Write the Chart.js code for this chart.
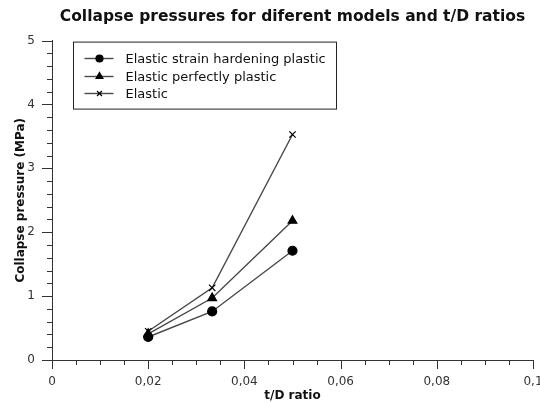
<!DOCTYPE html>
<html>
<head>
<meta charset="utf-8">
<script src="https://cdn.jsdelivr.net/npm/chart.js@4/dist/chart.umd.min.js"></script>
<style>
    body { margin: 0; background: #fff; }
    canvas { display: block; }
</style>
</head>
<body>
<canvas id="chartColapso" width="540" height="403"></canvas>
<script>
// Datos
const tdRatios = [0.02, 0.0333, 0.05];
const strainHardening = [0.36, 0.76, 1.71];
const perfectlyPlastic = [0.41, 0.97, 2.18];
const elastic = [0.45, 1.13, 3.53];
const seriesLabels = ['Elastic strain hardening plastic', 'Elastic perfectly plastic', 'Elastic'];
const xTickLabels = [0, 0.02, 0.04, 0.06, 0.08, 0.1];
const yTickLabels = [0, 1, 2, 3, 4, 5];

const fontFamily = "'DejaVu Sans', sans-serif";
const lineColor = '#484848';

const toPoints = values => tdRatios.map((x, i) => ({ x: x, y: values[i] }));
const fmt = v => String(Number(v.toFixed(3))).replace('.', ',');
const isLabelled = (list, v) => list.some(t => Math.abs(t - v) < 1e-6);

// Marcas de los ejes (mayores y menores)
const tickMarks = {
    id: 'tickMarks',
    afterDraw(chart) {
        const ctx = chart.ctx;
        const xs = chart.scales.x, ys = chart.scales.y;
        ctx.save();
        ctx.strokeStyle = '#333';
        ctx.lineWidth = 1;
        xs.ticks.forEach(t => {
            const px = Math.round(xs.getPixelForValue(t.value)) + 0.5;
            const len = isLabelled(xTickLabels, t.value) ? 9 : 5;
            ctx.beginPath();
            ctx.moveTo(px, xs.top);
            ctx.lineTo(px, xs.top + len);
            ctx.stroke();
        });
        ys.ticks.forEach(t => {
            const py = Math.round(ys.getPixelForValue(t.value)) + 0.5;
            const len = isLabelled(yTickLabels, t.value) ? 10 : 5;
            ctx.beginPath();
            ctx.moveTo(ys.right, py);
            ctx.lineTo(ys.right - len, py);
            ctx.stroke();
        });
        ctx.restore();
    }
};

// Leyenda dentro del área del gráfico
const boxLegend = {
    id: 'boxLegend',
    afterDraw(chart) {
        const ctx = chart.ctx;
        const area = chart.chartArea;
        const left = area.left + 21.5, top = area.top + 1.5;
        const width = 263, height = 67, rowH = 17.5;
        ctx.save();
        ctx.fillStyle = '#fff';
        ctx.fillRect(left, top, width, height);
        ctx.strokeStyle = '#222';
        ctx.lineWidth = 1;
        ctx.strokeRect(left, top, width, height);
        ctx.font = '13px ' + fontFamily;
        ctx.textBaseline = 'middle';
        chart.data.datasets.forEach((ds, i) => {
            const y = Math.round(top + 16 + i * rowH) + 0.5;
            ctx.strokeStyle = lineColor;
            ctx.lineWidth = 1.4;
            ctx.beginPath();
            ctx.moveTo(left + 11, y);
            ctx.lineTo(left + 40, y);
            ctx.stroke();
            ctx.fillStyle = '#000';
            ctx.strokeStyle = '#000';
            ctx.lineWidth = 1.2;
            Chart.helpers.drawPoint(ctx, {
                pointStyle: ds.pointStyle,
                radius: ds.legendRadius,
                borderWidth: 1.2
            }, left + 26, y);
            ctx.fillStyle = '#111';
            ctx.fillText(ds.label, left + 52, y + 1);
        });
        ctx.restore();
    }
};

const ctxColapso = document.getElementById('chartColapso').getContext('2d');

function makeDataset(label, values, style, radius, legendRadius) {
    return {
        label: label,
        data: toPoints(values),
        showLine: true,
        borderColor: lineColor,
        borderWidth: 1.4,
        pointStyle: style,
        pointRadius: radius,
        pointBackgroundColor: '#000',
        pointBorderColor: '#000',
        pointBorderWidth: 1.2,
        legendRadius: legendRadius
    };
}

new Chart(ctxColapso, {
    type: 'scatter',
    data: {
        datasets: [
            makeDataset(seriesLabels[0], strainHardening, 'circle', 4.5, 3.5),
            makeDataset(seriesLabels[1], perfectlyPlastic, 'triangle', 5, 4),
            makeDataset(seriesLabels[2], elastic, 'crossRot', 4.5, 3.5)
        ]
    },
    options: {
        responsive: false,
        animation: false,
        layout: { padding: { top: 0, right: 7, left: 0, bottom: 0 } },
        plugins: {
            legend: { display: false },
            tooltip: { enabled: false },
            title: {
                display: true,
                fullSize: false,
                text: 'Collapse pressures for diferent models and t/D ratios',
                color: '#111',
                font: { family: fontFamily, size: 15.5, weight: 'bold', lineHeight: 1.2 },
                padding: { top: 8, bottom: 14 }
            }
        },
        scales: {
            x: {
                type: 'linear',
                min: 0,
                max: 0.1,
                grid: { display: true, drawOnChartArea: false, drawTicks: false, color: 'transparent' },
                border: { display: true, color: '#333', width: 1 },
                ticks: {
                    stepSize: 0.005,
                    autoSkip: false,
                    maxRotation: 0,
                    padding: 15,
                    color: '#333',
                    font: { family: fontFamily, size: 12 },
                    callback: v => isLabelled(xTickLabels, v) ? fmt(v) : ''
                },
                title: {
                    display: true,
                    text: 't/D ratio',
                    color: '#111',
                    font: { family: fontFamily, size: 12, weight: 'bold', lineHeight: 1.2 },
                    padding: { top: 0, bottom: 0 }
                },
                afterFit(scale) {
                    scale.height = 43;
                    scale.paddingLeft = 0;
                    scale.paddingRight = 0;
                }
            },
            y: {
                type: 'linear',
                min: 0,
                max: 5,
                grid: { display: true, drawOnChartArea: false, drawTicks: false, color: 'transparent' },
                border: { display: true, color: '#333', width: 1 },
                ticks: {
                    stepSize: 0.2,
                    autoSkip: false,
                    padding: 17,
                    color: '#333',
                    font: { family: fontFamily, size: 12 },
                    callback: v => isLabelled(yTickLabels, v) ? fmt(v) : ''
                },
                title: {
                    display: true,
                    text: 'Collapse pressure (MPa)',
                    color: '#111',
                    font: { family: fontFamily, size: 12, weight: 'bold', lineHeight: 1.2 },
                    padding: { top: 14, bottom: 0 }
                },
                afterFit(scale) {
                    scale.width = 52;
                    scale.paddingTop = 0;
                    scale.paddingBottom = 0;
                }
            }
        }
    },
    plugins: [tickMarks, boxLegend]
});
</script>
</body>
</html>
